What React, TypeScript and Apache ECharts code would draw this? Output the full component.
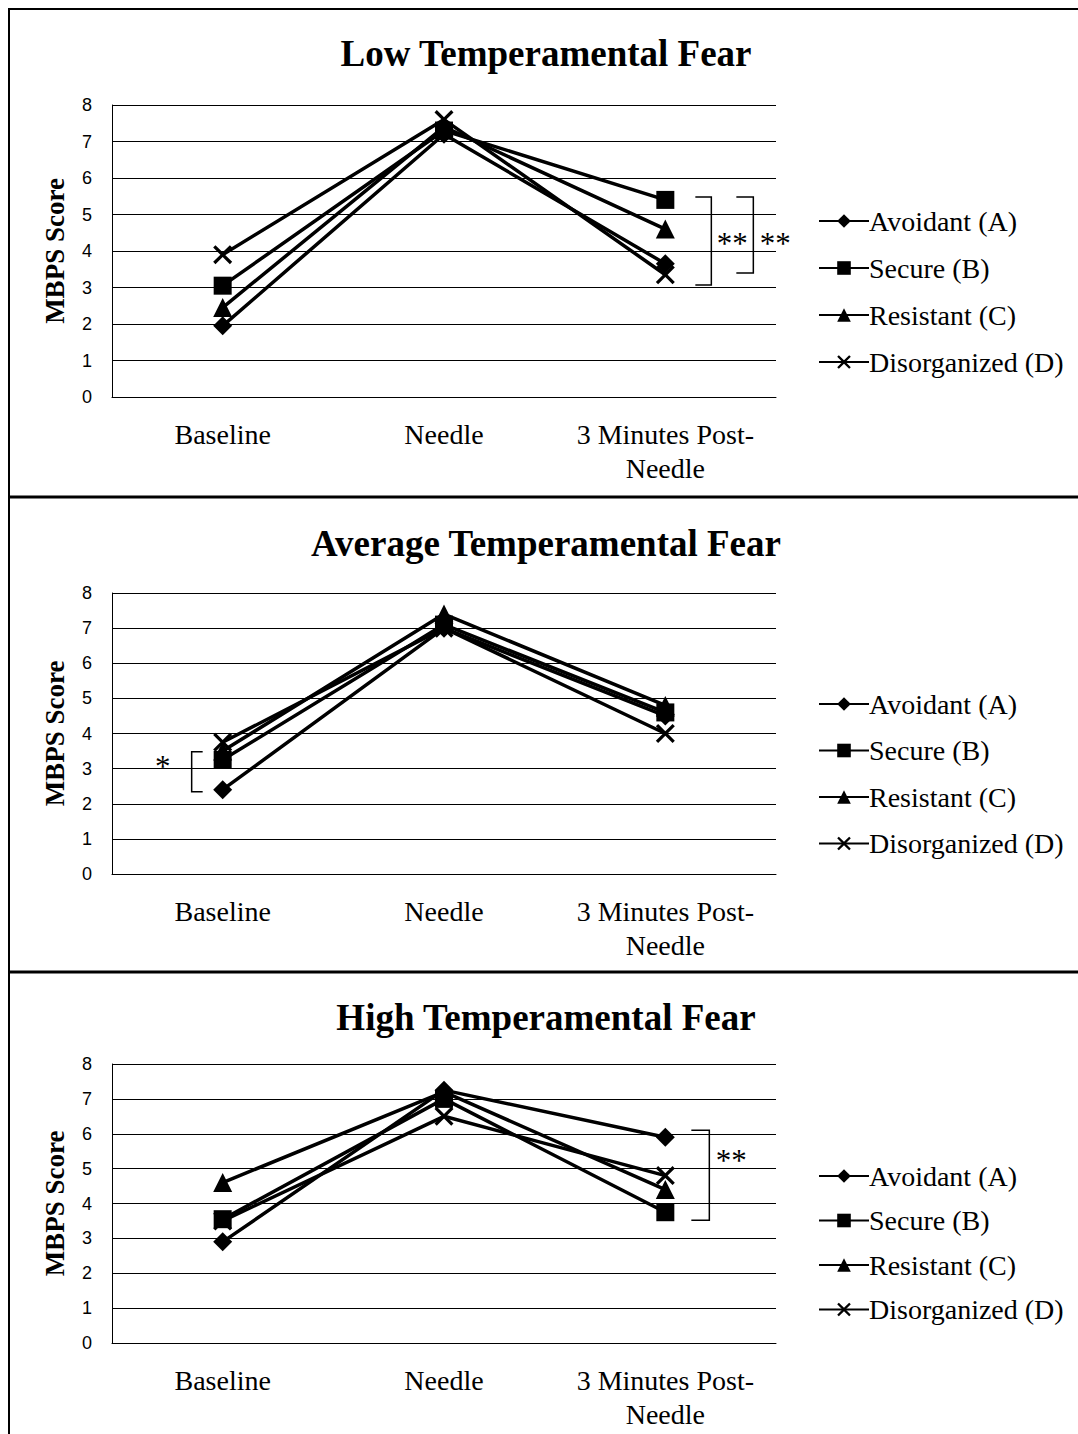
import React, { useEffect, useRef } from "react";
import * as echarts from "echarts";

const categories = ["Baseline", "Needle", "3 Minutes Post-\nNeedle"];
const seriesNames = ["Avoidant (A)", "Secure (B)", "Resistant (C)", "Disorganized (D)"];
const panelTitles = ["Low Temperamental Fear", "Average Temperamental Fear", "High Temperamental Fear"];

// values per panel: [A, B, C, D]
const lowA = [1.95, 7.2, 3.65];
const lowB = [3.05, 7.3, 5.4];
const lowC = [2.45, 7.4, 4.6];
const lowD = [3.9, 7.6, 3.35];

const avgA = [2.4, 7.0, 4.5];
const avgB = [3.25, 7.1, 4.6];
const avgC = [3.5, 7.4, 4.8];
const avgD = [3.75, 7.0, 4.0];

const highA = [2.9, 7.25, 5.9];
const highB = [3.55, 7.0, 3.75];
const highC = [4.6, 7.2, 4.4];
const highD = [3.5, 6.5, 4.8];

const panelData = [
  [lowA, lowB, lowC, lowD],
  [avgA, avgB, avgC, avgD],
  [highA, highB, highC, highD],
];

const yTicks = [0, 1, 2, 3, 4, 5, 6, 7, 8];

// brackets: [panel, categoryIndex, topValue, bottomValue, labelValue, label]
const brackets: [number, number, number, number, number, string][] = [
  [0, 2, 5.48, 3.07, 4.3, "**"],
  [0, 2, 5.48, 3.4, 4.3, "**"],
  [1, 0, 3.48, 2.34, 3.16, "*"],
  [2, 2, 6.1, 3.52, 5.33, "**"],
];
// pixel offsets of each bracket from its category centre: [tickStart, vertical, labelX]
const bracketOffsets = [
  [30, 46, 67],
  [71, 88, 110],
  [-20, -31, -60],
  [26, 44, 66],
];

const grids = [
  { left: 112, top: 105, width: 664, height: 292 },
  { left: 112, top: 593, width: 664, height: 281 },
  { left: 112, top: 1064, width: 664, height: 279 },
];
const titleY = [53, 543, 1017];
const legendTops = [201, 684, 1156];
const legendGaps = [17, 16.5, 14.5];

const SERIF = "'Liberation Serif', 'Times New Roman', serif";
const SANS = "'Liberation Sans', Arial, sans-serif";

const xSymbol = "path://M0,1.2 L1.2,0 L5,3.8 L8.8,0 L10,1.2 L6.2,5 L10,8.8 L8.8,10 L5,6.2 L1.2,10 L0,8.8 L3.8,5 Z";
const symbols = ["diamond", "rect", "triangle", xSymbol];
const symbolSizes = [19, 18, 19, 19];

export default function App() {
  const ref = useRef<HTMLDivElement>(null);
  useEffect(() => {
    if (!ref.current) return;
    const chart = echarts.init(ref.current, null, { renderer: "svg" });

    const series: any[] = [];
    panelData.forEach((panel, p) => {
      panel.forEach((vals, s) => {
        series.push({
          type: "line",
          name: seriesNames[s],
          xAxisIndex: p,
          yAxisIndex: p,
          data: vals,
          symbol: symbols[s],
          symbolSize: symbolSizes[s],
          showSymbol: true,
          lineStyle: { color: "#000", width: 3.5 },
          itemStyle: { color: "#000" },
          z: 3,
        });
      });
    });

    const option: any = {
      animation: false,
      backgroundColor: "#fff",
      grid: grids.map((g) => ({ ...g, containLabel: false })),
      xAxis: grids.map((_, i) => ({
        type: "category",
        gridIndex: i,
        data: categories,
        boundaryGap: true,
        axisLine: { show: true, lineStyle: { color: "#000", width: 1 } },
        axisTick: { show: false },
        axisLabel: {
          interval: 0,
          margin: 20,
          color: "#000",
          fontFamily: SERIF,
          fontSize: 28,
          lineHeight: 34,
        },
      })),
      yAxis: grids.map((_, i) => ({
        type: "value",
        gridIndex: i,
        min: 0,
        max: 8,
        interval: 1,
        name: "MBPS Score",
        nameLocation: "middle",
        nameGap: 44,
        nameRotate: 90,
        nameTextStyle: { color: "#000", fontFamily: SERIF, fontSize: 27, fontWeight: "bold" },
        axisLine: { show: true, lineStyle: { color: "#000", width: 1 } },
        axisTick: { show: false },
        splitLine: { show: true, lineStyle: { color: "#000", width: 1 } },
        axisLabel: {
          margin: 20,
          color: "#000",
          fontFamily: SANS,
          fontSize: 18,
          formatter: (v: number) => (yTicks.includes(v) ? String(v) : ""),
        },
      })),
      legend: grids.map((_, i) => ({
        orient: "vertical",
        left: 813,
        top: legendTops[i],
        itemWidth: 50,
        itemHeight: 17,
        itemGap: legendGaps[i],
        data: seriesNames,
        textStyle: { color: "#000", fontFamily: SERIF, fontSize: 28, lineHeight: 30, padding: [0, 0, 0, -5] },
        selectedMode: false,
      })),
      series,
    };
    chart.setOption(option);

    const graphics: any[] = [];
    // borders
    graphics.push({ type: "line", shape: { x1: 8, y1: 9, x2: 1078, y2: 9 }, style: { stroke: "#000", lineWidth: 2 } });
    graphics.push({ type: "line", shape: { x1: 9, y1: 8, x2: 9, y2: 1434 }, style: { stroke: "#000", lineWidth: 2 } });
    graphics.push({ type: "line", shape: { x1: 8, y1: 497, x2: 1078, y2: 497 }, style: { stroke: "#000", lineWidth: 3 } });
    graphics.push({ type: "line", shape: { x1: 8, y1: 972, x2: 1078, y2: 972 }, style: { stroke: "#000", lineWidth: 3 } });
    // titles
    panelTitles.forEach((t, i) => {
      graphics.push({
        type: "text",
        x: 546,
        y: titleY[i],
        style: {
          text: t,
          fontFamily: SERIF,
          fontSize: 37,
          fontWeight: "bold",
          fill: "#000",
          textAlign: "center",
          textVerticalAlign: "middle",
        },
      });
    });
    // brackets
    brackets.forEach((b, k) => {
      const [p, ci, topV, botV, labV, label] = b;
      const off = bracketOffsets[k];
      const top = chart.convertToPixel({ gridIndex: p } as any, [ci, topV]) as number[];
      const bot = chart.convertToPixel({ gridIndex: p } as any, [ci, botV]) as number[];
      const lab = chart.convertToPixel({ gridIndex: p } as any, [ci, labV]) as number[];
      const cx = top[0];
      const xs = cx + off[0];
      const xv = cx + off[1];
      graphics.push({
        type: "polyline",
        shape: { points: [[xs, top[1]], [xv, top[1]], [xv, bot[1]], [xs, bot[1]]] },
        style: { stroke: "#000", lineWidth: 1.5, fill: "none" },
      });
      graphics.push({
        type: "text",
        x: cx + off[2],
        y: lab[1] + 3,
        style: {
          text: label,
          fontFamily: SERIF,
          fontSize: 31,
          fill: "#000",
          textAlign: "center",
          textVerticalAlign: "middle",
        },
      });
    });
    chart.setOption({ graphic: graphics });

    return () => chart.dispose();
  }, []);
  return (
    <div
      ref={ref}
      style={{ position: "absolute", left: 0, top: 0, width: 1078, height: 1434, background: "#fff" }}
    />
  );
}
